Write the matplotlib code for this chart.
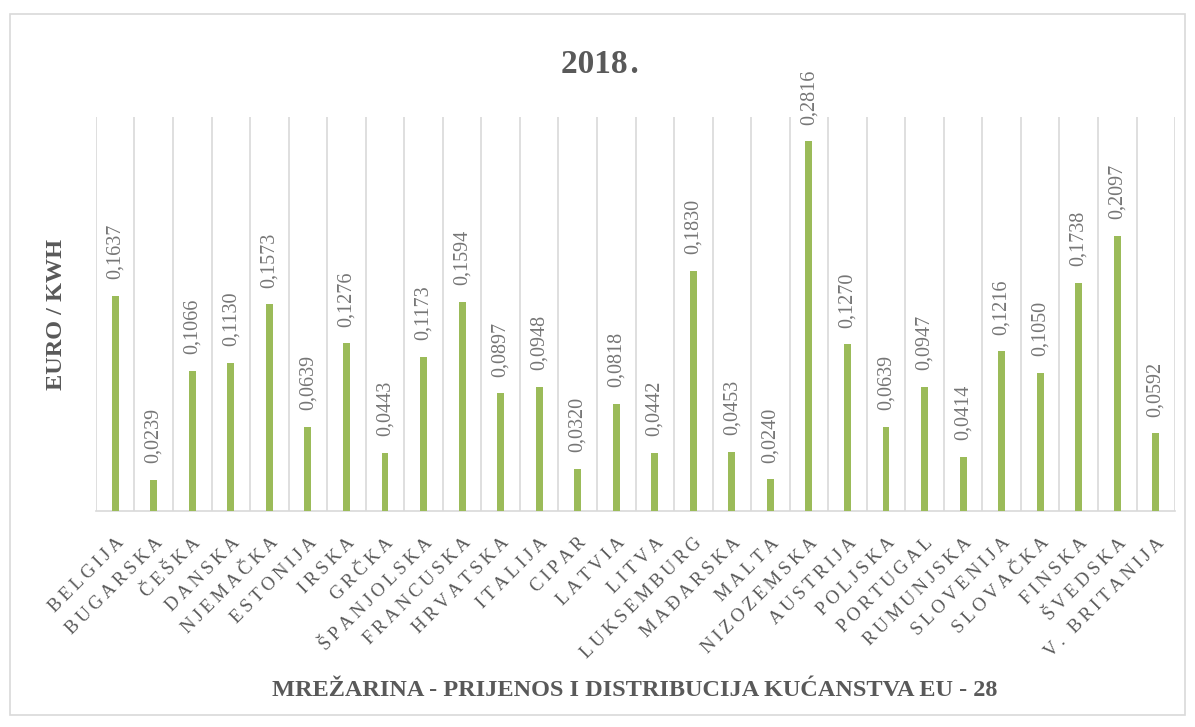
import matplotlib.pyplot as plt
import numpy as np
from matplotlib.patches import Rectangle

countries = ['BELGIJA', 'BUGARSKA', 'ČEŠKA', 'DANSKA', 'NJEMAČKA', 'ESTONIJA',
             'IRSKA', 'GRČKA', 'ŠPANJOLSKA', 'FRANCUSKA', 'HRVATSKA', 'ITALIJA',
             'CIPAR', 'LATVIA', 'LITVA', 'LUKSEMBURG', 'MAĐARSKA', 'MALTA',
             'NIZOZEMSKA', 'AUSTRIJA', 'POLJSKA', 'PORTUGAL', 'RUMUNJSKA',
             'SLOVENIJA', 'SLOVAČKA', 'FINSKA', 'ŠVEDSKA', 'V. BRITANIJA']
values = [0.1637, 0.0239, 0.1066, 0.1130, 0.1573, 0.0639,
          0.1276, 0.0443, 0.1173, 0.1594, 0.0897, 0.0948,
          0.0320, 0.0818, 0.0442, 0.1830, 0.0453, 0.0240,
          0.2816, 0.1270, 0.0639, 0.0947, 0.0414,
          0.1216, 0.1050, 0.1738, 0.2097, 0.0592]

serif = ['Liberation Serif', 'DejaVu Serif']
grey = '#595959'

fig = plt.figure(figsize=(11.95, 7.27), dpi=100)
fig.patches.append(Rectangle((0.008, 0.017), 0.984, 0.964, transform=fig.transFigure,
                             fill=False, edgecolor='#d9d9d9', linewidth=1.2))
ax = fig.add_axes([0.0803, 0.2971, 0.9030, 0.5419])

x = np.arange(len(countries))
ax.bar(x, values, width=0.18, color='#9bbb59', zorder=3)

for xi, v in zip(x, values):
    ax.annotate(('%.4f' % v).replace('.', ','), (xi, v), xytext=(0, 12),
                textcoords='offset points', rotation=90, ha='center', va='bottom',
                fontsize=14.5, color='#767676', family=serif)

ax.set_xlim(-0.5, len(countries) - 0.5)
ax.set_ylim(0, 0.30)

# vertical gridlines at category boundaries
for b in np.arange(-0.5, len(countries), 1.0):
    ax.axvline(b, color='#d9d9d9', linewidth=1.2, zorder=1)

for s in ['top', 'right', 'left']:
    ax.spines[s].set_visible(False)
ax.spines['bottom'].set_color('#d9d9d9')
ax.spines['bottom'].set_linewidth(1.2)
ax.set_yticks([])

# letter-spaced tick labels
spaced = ['\u2009'.join(c) for c in countries]
ax.set_xticks(x)
ax.set_xticklabels(spaced, rotation=45, ha='right', rotation_mode='anchor',
                   fontsize=13.5, color=grey, family=serif)
ax.tick_params(axis='x', length=0, pad=17)

fig.text(0.502, 0.911, '2018\u200a.', ha='center', va='center', fontsize=24,
         fontweight='bold', color=grey, family=serif)
fig.text(0.047, 0.567, 'EURO / KWH', ha='center', va='center', rotation=90,
         fontsize=17.5, fontweight='bold', color=grey, family=serif)
fig.text(0.531, 0.05, 'MREŽARINA - PRIJENOS I DISTRIBUCIJA KUĆANSTVA EU - 28',
         ha='center', va='center', fontsize=17.5, fontweight='bold',
         color=grey, family=serif)

fig.savefig('out.png', dpi=100)
